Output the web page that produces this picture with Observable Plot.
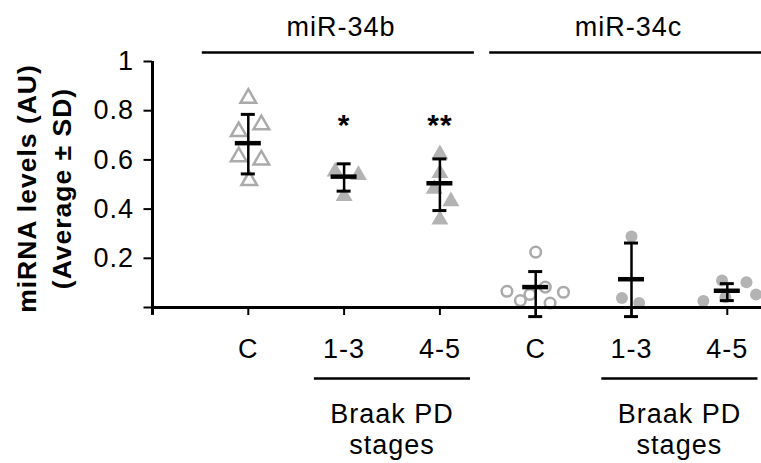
<!DOCTYPE html>
<html><head><meta charset="utf-8">
<script src="https://cdn.jsdelivr.net/npm/d3@7"></script>
<script src="https://cdn.jsdelivr.net/npm/@observablehq/plot@0.6"></script>
<style>body{margin:0;background:#fff}</style>
</head><body><div id="chart"></div>
<script>
// ---- data ----
const categories = ["C", "1-3", "4-5", "C", "1-3", "4-5"];
const groupOf = ["miR-34b", "miR-34b", "miR-34b", "miR-34c", "miR-34c", "miR-34c"];
const groups = ["miR-34b", "miR-34c"];
const means = [0.668, 0.532, 0.505, 0.083, 0.115, 0.068];
const lows  = [0.543, 0.473, 0.394, -0.037, -0.037, 0.028];
const highs = [0.785, 0.584, 0.604, 0.146, 0.262, 0.097];
const significance = ["", "*", "**", "", "", ""];
const values = [
  [0.851, 0.743, 0.715, 0.613, 0.600, 0.516],
  [0.552, 0.538, 0.453],
  [0.623, 0.546, 0.482, 0.432, 0.357],
  [0.225, 0.066, 0.028, 0.053, 0.083, 0.062, 0.018],
  [0.289, 0.039, 0.018],
  [0.026, 0.110, 0.042, 0.103, 0.053]
];
// horizontal scatter of each point around its category (category units)
const jitter = [
  [0, 0.136, -0.10, -0.10, 0.136, 0.01],
  [-0.094, 0.15, 0],
  [0, 0, -0.06, 0.115, 0],
  [0, -0.30, -0.16, -0.06, 0.10, 0.29, 0.15],
  [0, -0.10, 0.08],
  [-0.25, -0.055, -0.02, 0.20, 0.30]
];
const yTicks = [0, 0.2, 0.4, 0.6, 0.8, 1];
const yTitle = ["miRNA levels (AU)", "(Average ± SD)"];
const stageLabel = "Braak PD\nstages";

// ---- derived tables ----
const cats = categories.map((c, i) => ({
  pos: i + 1, label: c, group: groupOf[i], mean: means[i], lo: lows[i], hi: highs[i], sig: significance[i]
}));
const points = values.flatMap((vs, i) => vs.map((v, j) => ({
  pos: i + 1, x: i + 1 + jitter[i][j], value: v,
  open: i % 3 === 0, shape: groupOf[i] === "miR-34b" ? "triangle" : "circle"
})));
const groupSpans = groups.map(g => {
  const p = cats.filter(d => d.group === g).map(d => d.pos);
  return {name: g, first: p[0], mid: p[1], last: p[2]};
});

const gray = "#aaaaaa", grayFill = "#b3b3b3";
const W = 761, H = 463;
const step = 95.8;

const chart = Plot.plot({
  width: W, height: H,
  marginLeft: 152, marginRight: 0, marginTop: 61, marginBottom: 156,
  style: {fontFamily: "'Liberation Sans', Arial, sans-serif", fontSize: "27px", letterSpacing: "1px", background: "#fff", color: "#000", overflow: "visible"},
  x: {domain: [0, (W - 152) / step], axis: null},
  y: {domain: [0, 1], axis: null},
  marks: [
    // points
    Plot.dot(points.filter(d => d.shape === "triangle" && d.open), {x: "x", y: "value", symbol: "triangle", r: 5.8, fill: "none", stroke: gray, strokeWidth: 2.5}),
    Plot.dot(points.filter(d => d.shape === "triangle" && !d.open), {x: "x", y: "value", symbol: "triangle", r: 6.3, fill: grayFill, stroke: "none"}),
    Plot.dot(points.filter(d => d.shape === "circle" && d.open), {x: "x", y: "value", symbol: "circle", r: 5.3, fill: "none", stroke: gray, strokeWidth: 2.5}),
    Plot.dot(points.filter(d => d.shape === "circle" && !d.open), {x: "x", y: "value", symbol: "circle", r: 6, fill: grayFill, stroke: "none"}),
    // error bars
    Plot.ruleX(cats, {x: "pos", y1: "lo", y2: "hi", stroke: "#000", strokeWidth: 2.5}),
    Plot.ruleY(cats, {y: "hi", x1: d => d.pos - 7 / step, x2: d => d.pos + 7 / step, stroke: "#000", strokeWidth: 3}),
    Plot.ruleY(cats, {y: "lo", x1: d => d.pos - 7 / step, x2: d => d.pos + 7 / step, stroke: "#000", strokeWidth: 3}),
    Plot.ruleY(cats, {y: "mean", x1: d => d.pos - 13 / step, x2: d => d.pos + 13 / step, stroke: "#000", strokeWidth: 4.5}),
    // significance stars
    Plot.text(cats.filter(d => d.sig), {x: "pos", y: () => 1, dy: 73, text: "sig", lineAnchor: "bottom", fontSize: 30, fontWeight: "bold", fill: "#000"}),
    // axes
    Plot.ruleY([0], {stroke: "#000", strokeWidth: 3}),
    Plot.ruleX([0], {y1: -0.032, y2: 1, stroke: "#000", strokeWidth: 3}),
    Plot.axisY({ticks: yTicks, tickFormat: d => d === 0 ? "" : String(d), tickSize: 8.5, tickPadding: 10, strokeWidth: 2, label: null, fill: "#000"}),
    Plot.axisX({ticks: cats.map(d => d.pos), tickFormat: p => categories[p - 1], tickSize: 8, tickPadding: 23.5, strokeWidth: 2, label: null, fill: "#000"}),
    // y title
    Plot.text([yTitle[0]], {frameAnchor: "left", textAnchor: "middle", dx: -116.5, dy: 4, rotate: -90, lineAnchor: "bottom", fontWeight: "bold", fontSize: 26.5, fill: "#000"}),
    Plot.text([yTitle[1]], {frameAnchor: "left", textAnchor: "middle", dx: -81.5, dy: 4, rotate: -90, lineAnchor: "bottom", fontWeight: "bold", fontSize: 26.5, fill: "#000"}),
    // group headers
    Plot.ruleY(groupSpans, {y: () => 1, dy: -9, x1: d => d.first - 0.48, x2: d => d.last + 0.36, stroke: "#000", strokeWidth: 2.5}),
    Plot.text(groupSpans, {x: "mid", y: () => 1, dy: -26, dx: -3, text: "name", lineAnchor: "bottom", fill: "#000"}),
    // Braak PD stage brackets
    Plot.ruleY(groupSpans, {y: () => 0, dy: 71, x1: d => d.mid - 0.31, x2: d => d.last + 0.32, stroke: "#000", strokeWidth: 2.5}),
    Plot.text(groupSpans, {x: d => (d.mid + d.last) / 2, frameAnchor: "bottom", dy: 93, text: () => stageLabel, lineAnchor: "top", lineHeight: 1.15, fill: "#000"})
  ]
});
document.getElementById("chart").appendChild(chart);
</script>
</body></html>
